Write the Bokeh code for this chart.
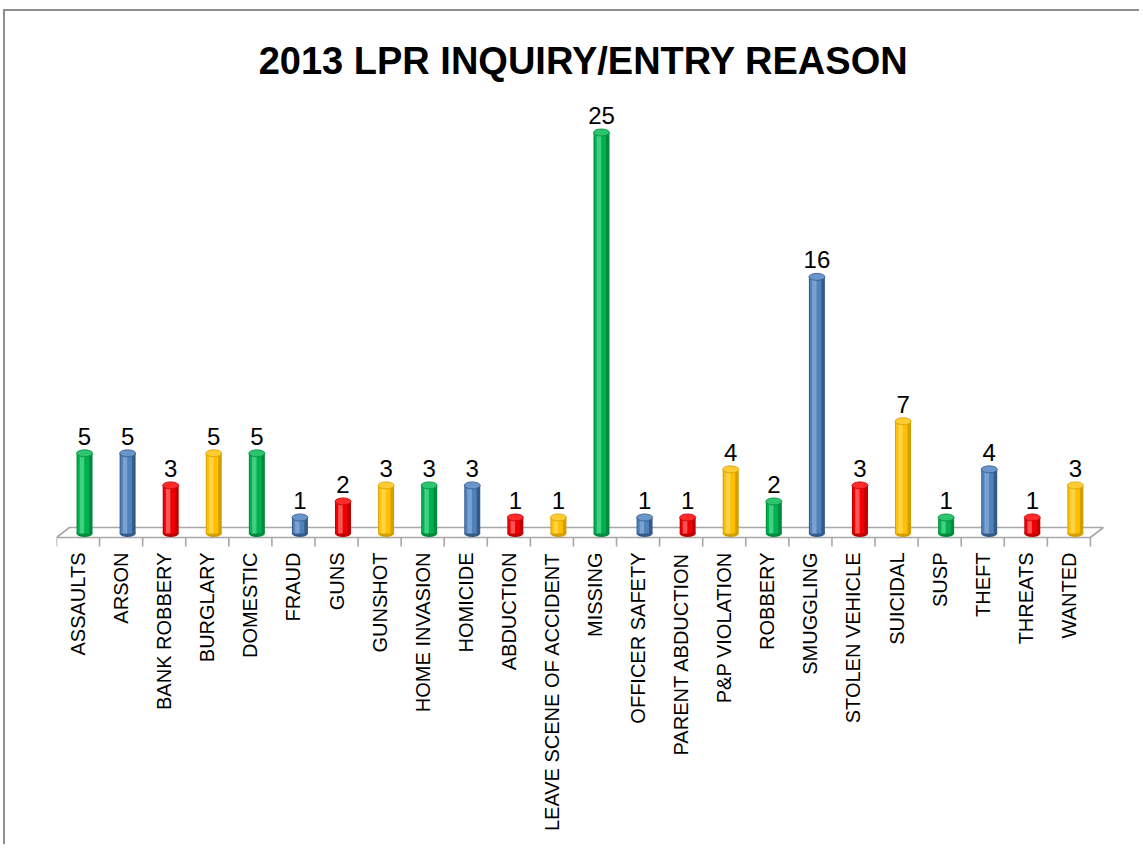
from math import pi
from bokeh.plotting import figure
from bokeh.models import Range1d, LinearAxis, FixedTicker, ColumnDataSource, Title
from bokeh.core.properties import value
from bokeh.embed import file_html
from bokeh.resources import INLINE

# ---------------- data ----------------
categories = ["ASSAULTS", "ARSON", "BANK ROBBERY", "BURGLARY", "DOMESTIC", "FRAUD",
              "GUNS", "GUNSHOT", "HOME INVASION", "HOMICIDE", "ABDUCTION",
              "LEAVE SCENE OF ACCIDENT", "MISSING", "OFFICER SAFETY", "PARENT ABDUCTION",
              "P&P VIOLATION", "ROBBERY", "SMUGGLING", "STOLEN VEHICLE", "SUICIDAL",
              "SUSP", "THEFT", "THREATS", "WANTED"]
counts = [5, 5, 3, 5, 5, 1, 2, 3, 3, 3, 1, 1, 25, 1, 1, 4, 2, 16, 3, 7, 1, 4, 1, 3]
title_text = "2013 LPR INQUIRY/ENTRY REASON"

# ---------------- style ----------------
palette = [  # (edge, main, highlight, top)
    ("#008A3E", "#00B050", "#4FD88C", "#2CC46C"),   # green
    ("#355A88", "#4F81BD", "#86A9D6", "#6A95CB"),   # blue
    ("#C00000", "#F00000", "#FF6A6A", "#FF2A2A"),   # red
    ("#D39F00", "#FFC000", "#FFD75A", "#FFCC33"),   # yellow
]
n = len(categories)
PX_X = 43.08   # px per category
PX_Y = 16.04   # px per unit
depth_dx = 13 / PX_X
depth_dy = 10 / PX_Y
bar_shift = 6.5 / PX_X
bar_w = 16 / PX_X

OX, OY = 5, 11   # page offset of the figure content (margin + border)
W, H = 1136, 835

p = figure(width=W, height=H, output_backend="svg", toolbar_location=None,
           x_range=Range1d(-0.5, -0.5 + (1110 - 56) / PX_X),
           y_range=Range1d((533 - 547) / PX_Y, (533 - 85) / PX_Y),
           min_border_left=56 - OX, min_border_right=W - (1110 - OX),
           min_border_top=85 - OY, min_border_bottom=H - (547 - OY),
           x_axis_location=None, y_axis_location=None)
p.outline_line_color = None
p.xgrid.visible = False
p.ygrid.visible = False
p.background_fill_color = "white"
p.border_fill_color = "white"
p.styles = {"border-top": "2px solid #8E8E8E", "border-left": "2px solid #8E8E8E",
            "margin-top": "9px", "margin-left": "3px"}

p.title = Title(text=title_text, align="center", text_font="Liberation Sans",
                text_font_size="38px", text_font_style="bold", text_color="black", standoff=8)

# ---------------- floor ----------------
front_y = -4 / PX_Y
xl, xr = -0.5, n - 0.5
p.patch([xl, xr, xr + depth_dx, xl + depth_dx],
        [front_y, front_y, front_y + depth_dy, front_y + depth_dy],
        fill_color="white", line_color="#A8A8A8", line_width=1.6)
tick_x = [i - 0.5 for i in range(n + 1)]
p.segment(x0=tick_x, y0=[front_y] * len(tick_x), x1=tick_x,
          y1=[(533 - 546) / PX_Y] * len(tick_x), line_color="#A8A8A8", line_width=1.6)

# ---------------- cylinders ----------------
xs = [i + bar_shift for i in range(n)]
cols = [palette[i % 4] for i in range(n)]
src = ColumnDataSource(dict(
    x=xs, top=counts,
    edge=[c[0] for c in cols], main=[c[1] for c in cols],
    hi=[c[2] for c in cols], topc=[c[3] for c in cols],
    xm=[x - 0.03 for x in xs], xh=[x - 0.06 for x in xs],
    lab=[str(v) for v in counts], ly=[v + 17 / PX_Y for v in counts],
))
# bottom cap
p.ellipse(x="x", y=0, width=16, height=7, width_units="screen", height_units="screen",
          source=src, fill_color="edge", line_color=None)
p.vbar(x="x", bottom=0, top="top", width=bar_w, source=src, fill_color="edge", line_color=None)
p.vbar(x="xm", bottom=0, top="top", width=bar_w * 0.72, source=src, fill_color="main", line_color=None)
p.vbar(x="xh", bottom=0, top="top", width=bar_w * 0.28, source=src, fill_color="hi",
       fill_alpha=0.8, line_color=None)
# top cap
p.ellipse(x="x", y="top", width=16, height=7, width_units="screen", height_units="screen",
          source=src, fill_color="topc", line_color="edge", line_width=0.8)

# value labels
p.text(x="x", y="ly", text="lab", source=src, text_align="center", text_baseline="middle",
       text_font=value("Liberation Sans"), text_font_size="24px", text_color="black")

# ---------------- category axis ----------------
ax = LinearAxis(ticker=FixedTicker(ticks=list(range(n))),
                major_label_overrides={i: c for i, c in enumerate(categories)},
                major_label_orientation=pi / 2,
                major_label_text_font="Liberation Sans",
                major_label_text_font_size="20px",
                major_label_text_color="black",
                major_label_standoff=5,
                axis_line_color=None, major_tick_line_color=None,
                minor_tick_line_color=None, major_tick_in=0, major_tick_out=0)
p.add_layout(ax, "below")

open("out.html", "w").write(file_html(p, INLINE))
